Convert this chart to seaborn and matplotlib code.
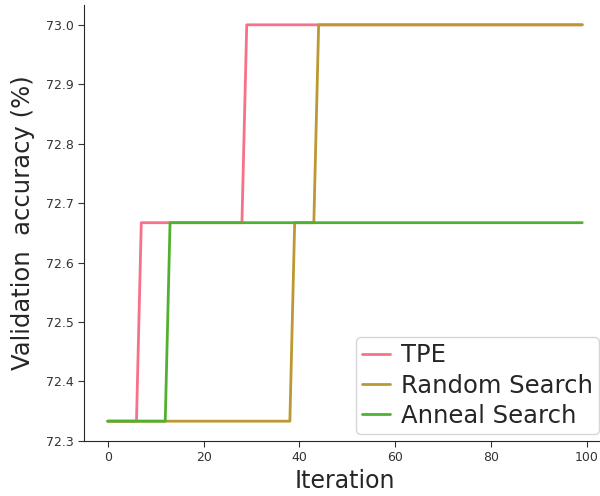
import matplotlib
matplotlib.use("Agg")
import matplotlib.pyplot as plt
import seaborn as sns
import numpy as np
import pandas as pd

methods = ["TPE", "Random Search", "Anneal Search"]
iterations = list(range(100))
tpe = [72.333] * 7 + [72.667] * 22 + [73.0] * 71
random_search = [72.333] * 39 + [72.667] * 5 + [73.0] * 56
anneal_search = [72.333] * 13 + [72.667] * 87

df = pd.concat([
    pd.DataFrame({"Iteration": iterations, "acc": tpe, "method": "TPE"}),
    pd.DataFrame({"Iteration": iterations, "acc": random_search, "method": "Random Search"}),
    pd.DataFrame({"Iteration": iterations, "acc": anneal_search, "method": "Anneal Search"}),
])

sns.set_style("ticks")
plt.rcParams['font.family'] = ['DejaVu Sans']
fig = plt.figure(figsize=(6, 4.96), dpi=100)
ax = fig.add_axes([84/600, 55/496, 522/600, 436/496])
palette = sns.color_palette("husl", 6)[:3]
sns.lineplot(data=df, x="Iteration", y="acc", hue="method", hue_order=methods,
             palette=palette, linewidth=2, ax=ax)
sns.despine(ax=ax)
ax.set_xlabel("Iteration", fontsize=17, labelpad=3)
ax.set_ylabel("Validation  accuracy (%)", fontsize=17.5, labelpad=8)
ax.tick_params(labelsize=9, colors="#333333", length=4)
ax.set_yticks([72.3, 72.4, 72.5, 72.6, 72.7, 72.8, 72.9, 73.0])
ax.set_xticks([0, 20, 40, 60, 80, 100])
leg = ax.legend(loc="lower right", fontsize=17.5, handlelength=1.15,
                handletextpad=0.45, borderaxespad=0.3, labelspacing=0.25,
                borderpad=0.25)
leg.get_frame().set_edgecolor("#cccccc")
fig.savefig("out.png", dpi=100)
